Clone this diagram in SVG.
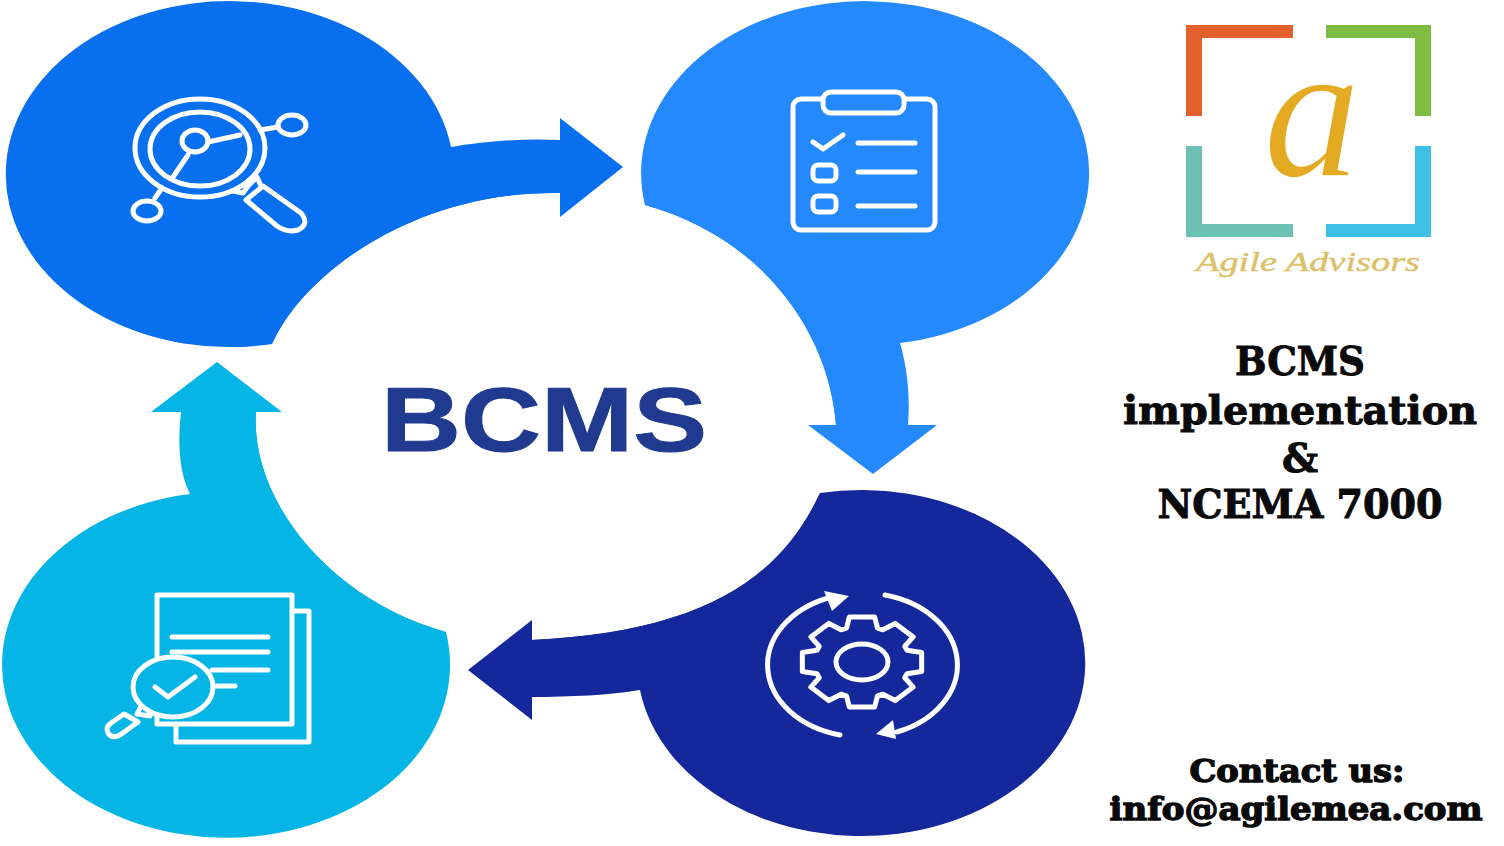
<svg xmlns="http://www.w3.org/2000/svg" width="1504" height="846" viewBox="0 0 1504 846">
<style>
.ic{fill:none;stroke:#fff;stroke-width:5;stroke-linecap:round;stroke-linejoin:round}
.ar{fill:#fff}
.t{font-family:"DejaVu Serif","Liberation Serif",serif;font-weight:700;fill:#0a0a0a;text-anchor:middle;stroke:#0a0a0a;stroke-width:1}
</style>
<rect width="1504" height="846" fill="#fff"/>
<g id="connectors">
<path id="arrow-top" fill="#0870ee" d="M272,344C305,270 420,190 560,193L560,217L623,167L560,118L560,140C520,138 480,142 451,147L300,200Z"/>
<path id="arrow-right" fill="#2389fd" d="M900,343C908,370 910,400 908,425L937,425L873,474L808,425L836,425C830,340 770,240 645,205L820,200Z"/>
<path id="arrow-bottom" fill="#14289c" d="M820,493C780,580 700,632 532,640L532,620L468,670L532,720L532,697C570,697 610,695 640,690L780,650Z"/>
<path id="arrow-left" fill="#04b5e5" d="M446,632C330,600 250,500 256,412L282,412L217,362L151,412L181,412C178,440 178,470 190,494L250,600Z"/>
</g>
<g id="node-analyse">
<path fill="#0870ee" d="M451,147A224,173 0 1 0 272,344C305,270 420,190 560,193Z"/>
<ellipse class="ic" cx="200" cy="148" rx="65" ry="49"/>
<ellipse class="ic" cx="200" cy="149" rx="50" ry="37"/>
<ellipse class="ic" cx="195" cy="141" rx="13" ry="11"/>
<path class="ic" d="M208,142L240,135M188,155L173,177M260,130L278,127M162,188L155,198"/>
<ellipse class="ic" cx="292" cy="125" rx="14" ry="10"/>
<ellipse class="ic" cx="147" cy="211" rx="14" ry="10"/>
<path class="ic" d="M233,191L243,193L248,186L257,177L261,186M246,200L263,186L301,213Q310,224 298,230Q287,233 277,226Z"/>
</g>
<g id="node-plan">
<path fill="#2389fd" d="M645,205A224,172 0 1 1 900,343L836,425C830,340 770,240 645,205Z"/>
<rect class="ic" x="793" y="99" width="142" height="131" rx="8"/>
<rect class="ic" x="823" y="92" width="81" height="21" rx="8" style="fill:#2389fd"/>
<path class="ic" d="M813,142L823,149L843,135M858,143H915M858,172H915M858,206H915"/>
<rect class="ic" x="813" y="165" width="23" height="16" rx="5"/>
<rect class="ic" x="813" y="196" width="23" height="16" rx="5"/>
</g>
<g id="node-implement">
<path fill="#14289c" d="M640,690A224,173 0 1 0 820,493C780,580 700,632 532,640Z"/>
<polygon class="ic" vector-effect="non-scaling-stroke" transform="translate(862 662) scale(61 46)" points=".7375,-.254 .978,-.208 .978,.208 .7375,.254 .701,.342 .839,.545 .545,.839 .342,.701 .254,.7375 .208,.978 -.208,.978 -.254,.7375 -.342,.701 -.545,.839 -.839,.545 -.701,.342 -.7375,.254 -.978,.208 -.978,-.208 -.7375,-.254 -.701,-.342 -.839,-.545 -.545,-.839 -.342,-.701 -.254,-.7375 -.208,-.978 .208,-.978 .254,-.7375 .342,-.701 .545,-.839 .839,-.545 .701,-.342"/>
<ellipse class="ic" cx="862" cy="662" rx="26" ry="18"/>
<path class="ic" d="M840,735A95,72 0 0 1 828,598M885,595A95,72 0 0 1 897,732"/>
<polygon class="ar" points="824,591 849,596 832,611"/>
<polygon class="ar" points="876,734 893,720 896,739"/>
</g>
<g id="node-review">
<path fill="#04b5e5" d="M446,632A224,173 0 1 1 190,494L256,412C250,500 330,600 446,632Z"/>
<path class="ic" d="M292,611H309V742H176V724"/>
<path class="ic" d="M157,712V724H292V595H157V660"/>
<path class="ic" d="M172,637H268M172,652H268M212,670H268M215,686H235"/>
<ellipse class="ic" cx="173" cy="687" rx="40" ry="30" style="fill:#04b5e5"/>
<path class="ic" d="M155,687L168,697L195,677M141,706L137,714L150,716M124,714L138,722L120,735Q112,739 108,733Q105,727 111,723Z"/>
</g>
<g id="center">
<text x="544" y="451" font-family="'Liberation Sans',sans-serif" font-weight="700" font-size="90" fill="#1f3a8f" stroke="#1f3a8f" stroke-width="1" textLength="326" lengthAdjust="spacingAndGlyphs" text-anchor="middle">BCMS</text>
</g>
<g id="logo">
<path fill="#e2602b" d="M1186,25H1293V38H1202V116H1186Z"/>
<path fill="#7fbd42" d="M1326,25H1431V116H1415V38H1326Z"/>
<path fill="#6cc0b4" d="M1186,146H1202V224H1293V237H1186Z"/>
<path fill="#3fc0e6" d="M1415,146H1431V237H1326V224H1415Z"/>
<text x="1312" y="176" font-family="'Liberation Serif',serif" font-style="italic" font-size="195" fill="#e3aa22" stroke="#fff" stroke-width="1.5" text-anchor="middle">a</text>
<text x="1308" y="271" font-family="'Liberation Serif',serif" font-style="italic" font-size="28" fill="#dcc06a" stroke="#dcc06a" stroke-width=".4" textLength="224" lengthAdjust="spacingAndGlyphs" text-anchor="middle">Agile Advisors</text>
</g>
<g id="title">
<text class="t" x="1300" y="375" font-size="40" textLength="130" lengthAdjust="spacingAndGlyphs">BCMS</text>
<text class="t" x="1300" y="424" font-size="40" textLength="354" lengthAdjust="spacingAndGlyphs">implementation</text>
<text class="t" x="1300" y="472" font-size="40">&amp;</text>
<text class="t" x="1300" y="518" font-size="40" textLength="285" lengthAdjust="spacingAndGlyphs">NCEMA 7000</text>
</g>
<g id="contact">
<text class="t" x="1297" y="782" font-size="32" style="stroke-width:1.4" textLength="215" lengthAdjust="spacingAndGlyphs">Contact us:</text>
<text class="t" x="1296" y="820" font-size="32" style="stroke-width:1.4" textLength="373" lengthAdjust="spacingAndGlyphs">info@agilemea.com</text>
</g>
</svg>
